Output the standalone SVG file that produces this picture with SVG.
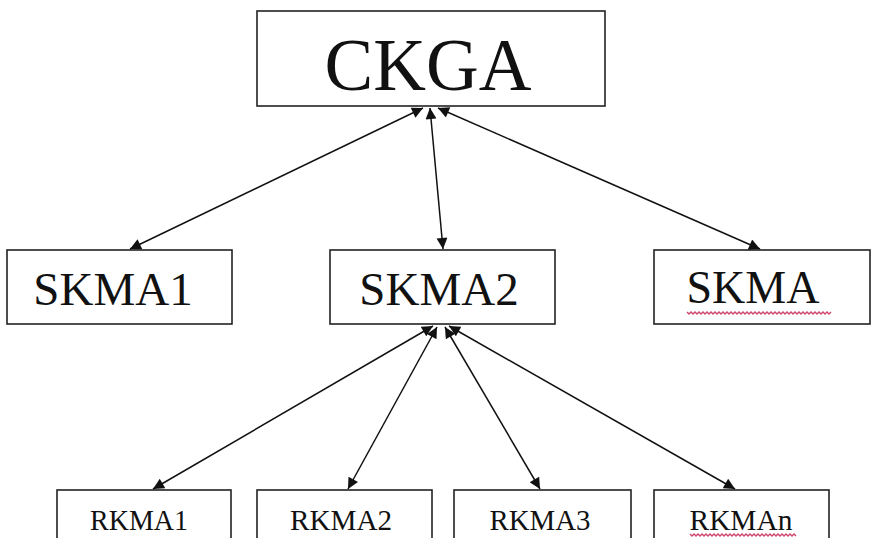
<svg xmlns="http://www.w3.org/2000/svg" width="872" height="538" viewBox="0 0 872 538">
<style>
.box{fill:#fff;stroke:#222;stroke-width:1.6}
.t{font-family:"Liberation Serif","Times New Roman",serif;fill:#111;text-anchor:middle}
.c{stroke:#111;stroke-width:1.5;fill:none;marker-start:url(#ah);marker-end:url(#ah)}
.w{stroke:#d0456e;stroke-width:1.4;fill:none}
</style>
<defs>
<marker id="ah" viewBox="0 0 10 10" refX="10" refY="5" markerWidth="14" markerHeight="11" markerUnits="userSpaceOnUse" orient="auto-start-reverse">
<path d="M0,0 L10,5 L0,10 z" fill="#111"/>
</marker>
</defs>
<rect width="872" height="538" fill="#fff"/>
<g id="CKGA"><rect class="box" x="257" y="11" width="348" height="95"/><text class="t" x="428" y="90" font-size="73">CKGA</text></g>
<g id="SKMA1"><rect class="box" x="7" y="250" width="225" height="74"/><text class="t" x="113" y="305" font-size="47">SKMA1</text></g>
<g id="SKMA2"><rect class="box" x="330" y="250" width="225" height="74"/><text class="t" x="439" y="305" font-size="47">SKMA2</text></g>
<g id="SKMA"><rect class="box" x="654" y="250" width="216" height="74"/><text class="t" x="753" y="303" font-size="46">SKMA</text><path class="w" d="M687,312 l2,2 l2,-2 l2,2 l2,-2 l2,2 l2,-2 l2,2 l2,-2 l2,2 l2,-2 l2,2 l2,-2 l2,2 l2,-2 l2,2 l2,-2 l2,2 l2,-2 l2,2 l2,-2 l2,2 l2,-2 l2,2 l2,-2 l2,2 l2,-2 l2,2 l2,-2 l2,2 l2,-2 l2,2 l2,-2 l2,2 l2,-2 l2,2 l2,-2 l2,2 l2,-2 l2,2 l2,-2 l2,2 l2,-2 l2,2 l2,-2 l2,2 l2,-2 l2,2 l2,-2 l2,2 l2,-2 l2,2 l2,-2 l2,2 l2,-2 l2,2 l2,-2 l2,2 l2,-2 l2,2 l2,-2 l2,2 l2,-2 l2,2 l2,-2 l2,2 l2,-2 l2,2 l2,-2 l2,2 l2,-2 l2,2 l2,-2"/></g>
<g id="RKMA1"><rect class="box" x="57" y="490" width="174" height="60"/><text class="t" x="139" y="530" font-size="30" textLength="98" lengthAdjust="spacingAndGlyphs">RKMA1</text></g>
<g id="RKMA2"><rect class="box" x="257" y="490" width="175" height="60"/><text class="t" x="341" y="530" font-size="30" textLength="102" lengthAdjust="spacingAndGlyphs">RKMA2</text></g>
<g id="RKMA3"><rect class="box" x="454" y="490" width="177" height="60"/><text class="t" x="540" y="530" font-size="30" textLength="101" lengthAdjust="spacingAndGlyphs">RKMA3</text></g>
<g id="RKMAn"><rect class="box" x="654" y="490" width="175" height="60"/><text class="t" x="741" y="530" font-size="30" textLength="103" lengthAdjust="spacingAndGlyphs">RKMAn</text><path class="w" d="M690,534 l2,2 l2,-2 l2,2 l2,-2 l2,2 l2,-2 l2,2 l2,-2 l2,2 l2,-2 l2,2 l2,-2 l2,2 l2,-2 l2,2 l2,-2 l2,2 l2,-2 l2,2 l2,-2 l2,2 l2,-2 l2,2 l2,-2 l2,2 l2,-2 l2,2 l2,-2 l2,2 l2,-2 l2,2 l2,-2 l2,2 l2,-2 l2,2 l2,-2 l2,2 l2,-2 l2,2 l2,-2 l2,2 l2,-2 l2,2 l2,-2 l2,2 l2,-2 l2,2 l2,-2 l2,2 l2,-2 l2,2 l2,-2 l2,2"/></g>
<g id="connectors">
<line class="c" x1="423" y1="108" x2="130" y2="249"/>
<line class="c" x1="430" y1="108" x2="443" y2="249"/>
<line class="c" x1="438" y1="108" x2="760" y2="249"/>
<line class="c" x1="433" y1="326" x2="153" y2="489"/>
<line class="c" x1="437" y1="327" x2="348" y2="489"/>
<line class="c" x1="445" y1="327" x2="540" y2="489"/>
<line class="c" x1="449" y1="326" x2="735" y2="489"/>
</g>
</svg>
